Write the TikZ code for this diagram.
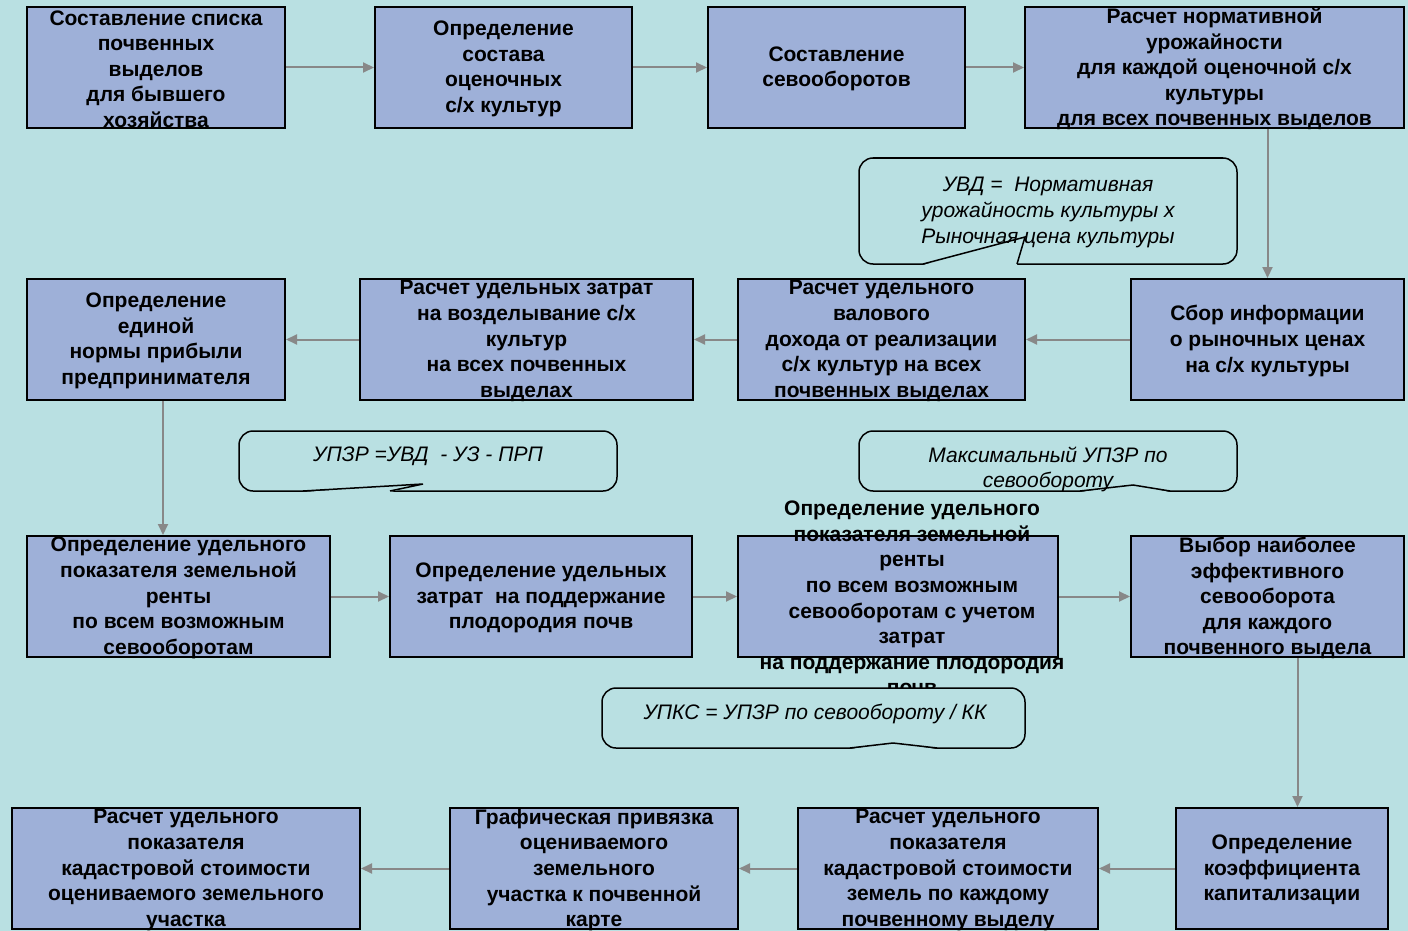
\documentclass[tikz,border=0pt]{standalone}
\usepackage{fontspec}
\setmainfont{Liberation Sans}
\usepackage{tikz}
\usetikzlibrary{arrows.meta}
\tikzstyle{flowchart} = [x = 1pt, y = -1pt]
\definecolor{bgColor}{RGB}{185,224,226}
\definecolor{stageColor}{RGB}{158,176,216}
\definecolor{arrowColor}{RGB}{136,136,136}
\tikzstyle{stageStyle} = [draw=black, fill=stageColor, line width=2pt, inner sep=0pt]
\tikzstyle{stageText} = [align=center, inner sep=0pt, font=\fontsize{21}{25.6}\selectfont\bfseries]
\tikzstyle{calloutStyle} = [draw=black, fill=bgColor, line width=1.5pt, rounded corners=14pt, inner sep=0pt]
\tikzstyle{calloutText} = [align=center, inner sep=0pt, font=\fontsize{21}{25.6}\selectfont\itshape]
\tikzstyle{flowArrow} = [draw=arrowColor, line width=2pt, -{Triangle[length=11pt, width=10pt]}]
% optional argument: horizontal shift of the text
\newcommand{\stageBox}[7][0]{
  \pgfmathsetmacro{\boxWidth}{#5 - #3}
  \pgfmathsetmacro{\boxHeight}{#6 - #4}
  \node [stageStyle, minimum width=\boxWidth pt, minimum height=\boxHeight pt] (#2) at ({(#3 + #5)/2}, {(#4 + #6)/2}) {};
  \node [stageText] (#2Text) at ([xshift=#1pt, yshift=-1.5pt]#2.center) {#7};
}
\newcommand{\calloutBox}[5]{
  \pgfmathsetmacro{\boxWidth}{#4 - #2}
  \pgfmathsetmacro{\boxHeight}{#5 - #3}
  \node [calloutStyle, minimum width=\boxWidth pt, minimum height=\boxHeight pt] (#1) at ({(#2 + #4)/2}, {(#3 + #5)/2}) {};
}
% tail: left foot, tip, right foot, bottom line
\newcommand{\calloutTail}[5]{
  \fill [bgColor] (#1, #5 + 1) -- (#2, #3) -- (#4, #5 + 1) -- cycle;
  \draw [black, line width=1.5pt, line join=miter] (#1, #5) -- (#2, #3) -- (#4, #5);
}
\begin{document}
\begin{tikzpicture}[flowchart]
  \useasboundingbox (0,0) rectangle (1408,931);
  \fill [bgColor] (0,0) rectangle (1408,931);

  % first row
  \stageBox{listBox}{27}{7}{285}{128}{Составление списка\\почвенных\\выделов\\для бывшего\\хозяйства}
  \stageBox{cropsBox}{375}{7}{632}{128}{Определение\\состава\\оценочных\\с/х культур}
  \stageBox{rotationBox}{708}{7}{965}{128}{Составление\\севооборотов}
  \stageBox{yieldBox}{1025}{7}{1404}{128}{Расчет нормативной\\урожайности\\для каждой оценочной с/х\\культуры\\для всех почвенных выделов}

  % second row
  \stageBox{profitBox}{27}{279}{285}{400}{Определение\\единой\\нормы прибыли\\предпринимателя}
  \stageBox{costBox}{360}{279}{693}{400}{Расчет удельных затрат\\на возделывание с/х\\культур\\на всех почвенных\\выделах}
  \stageBox{incomeBox}{738}{279}{1025}{400}{Расчет удельного\\валового\\дохода от реализации\\с/х культур на всех\\почвенных выделах}
  \stageBox{priceBox}{1131}{279}{1404}{400}{Сбор информации\\о рыночных ценах\\на с/х культуры}

  % third row
  \stageBox{rentBox}{27}{536}{330}{657}{Определение удельного\\показателя земельной\\ренты\\по всем возможным\\севооборотам}
  \stageBox{fertilityBox}{390}{536}{692}{657}{Определение удельных\\затрат\ \ на поддержание\\плодородия почв}
  \stageBox[14]{netRentBox}{738}{536}{1058}{657}{Определение удельного\\показателя земельной\\ренты\\по всем возможным\\севооборотам с учетом\\затрат\\на поддержание плодородия\\почв}
  \stageBox{choiceBox}{1131}{536}{1404}{657}{Выбор наиболее\\эффективного\\севооборота\\для каждого\\почвенного выдела}

  % fourth row
  \stageBox{parcelBox}{12}{808}{360}{929}{Расчет удельного\\показателя\\кадастровой стоимости\\оцениваемого земельного\\участка}
  \stageBox{mapBox}{450}{808}{738}{929}{Графическая привязка\\оцениваемого\\земельного\\участка к почвенной\\карте}
  \stageBox{soilValueBox}{798}{808}{1098}{929}{Расчет удельного\\показателя\\кадастровой стоимости\\земель по каждому\\почвенному выделу}
  \stageBox{capBox}{1176}{808}{1388}{929}{Определение\\коэффициента\\капитализации}

  % arrows
  \draw [flowArrow] (listBox) -- (cropsBox);
  \draw [flowArrow] (cropsBox) -- (rotationBox);
  \draw [flowArrow] (rotationBox) -- (yieldBox);
  \draw [flowArrow] (priceBox.north |- yieldBox.south) -- (priceBox.north);
  \draw [flowArrow] (priceBox) -- (incomeBox);
  \draw [flowArrow] (incomeBox) -- (costBox);
  \draw [flowArrow] (costBox) -- (profitBox);
  \draw [flowArrow] ([xshift=7pt]profitBox.south) -- ([xshift=7pt]profitBox.south |- rentBox.north);
  \draw [flowArrow] (rentBox) -- (fertilityBox);
  \draw [flowArrow] (fertilityBox) -- (netRentBox);
  \draw [flowArrow] (netRentBox) -- (choiceBox);
  \draw [flowArrow] ([xshift=30pt]choiceBox.south) -- ([xshift=30pt]choiceBox.south |- capBox.north);
  \draw [flowArrow] (capBox) -- (soilValueBox);
  \draw [flowArrow] (soilValueBox) -- (mapBox);
  \draw [flowArrow] (mapBox) -- (parcelBox);

  % callouts
  \calloutBox{incomeNote}{859}{158}{1237}{264}
  \calloutTail{923}{1025}{237}{1017}{264}
  \node [calloutText] (incomeNoteText) at (1048,212.5) {УВД =\ \ Нормативная\\урожайность культуры х\\Рыночная цена культуры};

  \calloutBox{rentNote}{239}{431}{617}{491}
  \calloutTail{303}{423}{484}{390}{491}
  \node [calloutText] (rentNoteText) at (428,456.5) {УПЗР =УВД\ \ - УЗ - ПРП};

  \calloutBox{maxNote}{859}{431}{1237}{491}
  \calloutTail{1080}{1133}{485}{1170}{491}
  \node [calloutText] (maxNoteText) at (1048,469.5) {Максимальный УПЗР по\\севообороту};

  \calloutBox{valueNote}{602}{688}{1025}{748}
  \calloutTail{850}{893}{743}{937}{748}
  \node [calloutText] (valueNoteText) at (815,713.5) {УПКС = УПЗР по севообороту / КК};
\end{tikzpicture}
\end{document}
